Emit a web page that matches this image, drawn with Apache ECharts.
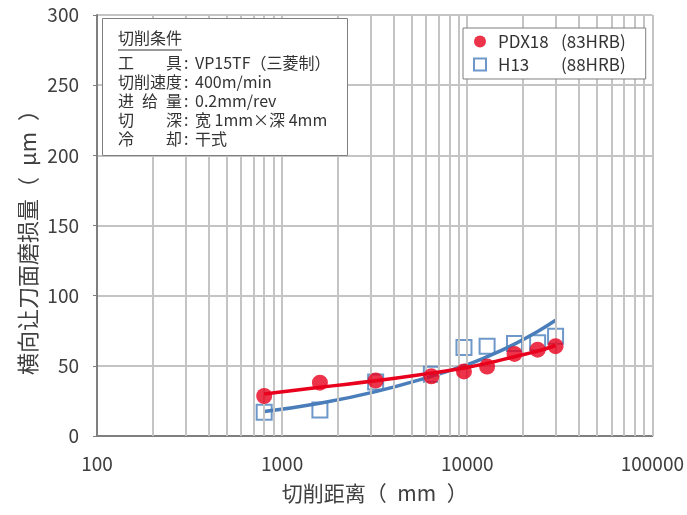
<!DOCTYPE html>
<html>
<head>
<meta charset="utf-8">
<script src="https://cdn.jsdelivr.net/npm/echarts@6/dist/echarts.min.js"></script>
<style>
html,body{margin:0;padding:0;background:#fff;}
#c{width:687px;height:515px;}
</style>
</head>
<body>
<div id="c"></div>
<script>
// ---- data ----
const cutDistance = [800, 1600, 3200, 6400, 9600, 12800, 18000, 24000, 30000];
const pdx18Wear = [28.5, 38, 39.5, 42.5, 46, 49.5, 58.5, 61.5, 64];
const h13Wear = [17, 18.5, 38.5, 44, 63, 64, 66, 66.5, 71];
const trendDistance = [800, 1600, 3200, 6400, 9600, 12800, 18000, 24000, 30000];
const pdx18Trend = [30, 34.8, 39.3, 44.8, 48.5, 51.8, 56.5, 60.5, 64.5];
const h13Trend = [17.4, 23.3, 31.6, 42.5, 50, 56.5, 65.5, 74.5, 82.5];
const seriesNames = ['PDX18', 'H13'];
const hardness = ['(83HRB)', '(88HRB)'];
const xTickLabels = ['100', '1000', '10000', '100000'];
const xGridValues = [200,300,400,500,600,700,800,900,1000,2000,3000,4000,5000,6000,7000,8000,9000,10000,20000,30000,40000,50000,60000,70000,80000,90000,100000];
const conditionTitle = '切削条件';
const conditionLabels = ['工\u3000\u3000具', '切削速度', '进\u2002给\u2002量', '切\u3000\u3000深', '冷\u3000\u3000却'];
const conditionValues = ['VP15TF（三菱制）', '400m/min', '0.2mm/rev', '宽 1mm×深 4mm', '干式'];
const yAxisName = '横向让刀面磨损量（\u2002μm\u2002）';
const xAxisName = '切削距离（\u2002mm\u2002）';

const FONT = '"Noto Sans CJK JP", "Noto Sans CJK SC", sans-serif';
const RED = '#e8001c';
const BLUE = '#4a7ebb';
const TXT = '#404040';

const zip = (xs, ys) => xs.map((x, i) => [x, ys[i]]);
const legendNames = seriesNames.map((n, i) => n + ' ' + hardness[i]);

const graphics = [];
graphics.push({type: 'rect', left: 102, top: 18, shape: {width: 245, height: 137},
  style: {fill: '#fff', stroke: '#7f7f7f', lineWidth: 1}, z: 10});
graphics.push({type: 'text', left: 118, top: 30, z: 11,
  style: {text: conditionTitle, font: '16px ' + FONT, fill: '#333'}});
graphics.push({type: 'line', shape: {x1: 118, y1: 50, x2: 182, y2: 50}, z: 11,
  style: {stroke: '#333', lineWidth: 1}});
conditionLabels.forEach((lab, i) => {
  const y = 55 + i * 19;
  graphics.push({type: 'text', left: 118, top: y, z: 11,
    style: {text: lab, font: '16px ' + FONT, fill: '#333'}});
  graphics.push({type: 'text', left: 184, top: y, z: 11,
    style: {text: ':', font: '16px ' + FONT, fill: '#333'}});
  graphics.push({type: 'text', left: 195, top: y, z: 11,
    style: {text: conditionValues[i], font: '16px ' + FONT, fill: '#333'}});
});
// y axis title, placed like the reference
graphics.push({type: 'text', x: 28, y: 237, rotation: Math.PI / 2, z: 11,
  style: {text: yAxisName, font: '22px ' + FONT, fill: TXT, align: 'center', verticalAlign: 'middle'}});

const chart = echarts.init(document.getElementById('c'), null, {renderer: 'canvas'});
chart.setOption({
  animation: false,
  backgroundColor: '#fff',
  textStyle: {fontFamily: FONT},
  grid: {left: 97, right: 34, top: 15, bottom: 79, containLabel: false},
  legend: {
    data: legendNames,
    orient: 'vertical',
    left: 463, top: 28, z: 50,
    itemWidth: 12, itemHeight: 12, itemGap: 6,
    padding: [5, 20, 6, 10],
    backgroundColor: '#fff',
    borderColor: '#7f7f7f', borderWidth: 1,
    textStyle: {
      fontSize: 17, color: '#333', fontFamily: FONT, padding: [0, 0, 0, 7],
      rich: {a: {width: 63, fontSize: 17, color: '#333', fontFamily: FONT},
             b: {fontSize: 17, color: '#333', fontFamily: FONT}}
    },
    formatter: name => {
      const i = legendNames.indexOf(name);
      return '{a|' + seriesNames[i] + '}{b|' + hardness[i] + '}';
    }
  },
  xAxis: {
    type: 'log', logBase: 10, min: 100, max: 100000,
    name: xAxisName, nameLocation: 'middle', nameGap: 47,
    nameTextStyle: {fontSize: 21, color: TXT, fontFamily: FONT},
    axisLine: {show: true, lineStyle: {color: '#7f7f7f', width: 2}},
    axisTick: {show: false},
    splitLine: {show: false},
    axisLabel: {fontSize: 19, color: TXT, margin: 18, fontFamily: FONT,
      formatter: v => xTickLabels[Math.round(Math.log10(v)) - 2]}
  },
  yAxis: {
    type: 'value', min: 0, max: 300, interval: 50,
    axisLine: {show: true, lineStyle: {color: '#7f7f7f', width: 2}},
    axisTick: {show: true, inside: false, length: 4, lineStyle: {color: '#7f7f7f', width: 1}},
    splitLine: {show: true, lineStyle: {color: '#c4c4c4', width: 2}},
    axisLabel: {fontSize: 19, color: TXT, margin: 18, fontFamily: FONT}
  },
  graphic: graphics,
  series: [
    {
      type: 'line', data: [], z: 1, silent: true,
      markLine: {
        silent: true, symbol: 'none', animation: false,
        label: {show: false},
        lineStyle: {color: '#c4c4c4', width: 2, type: 'solid'},
        emphasis: {disabled: true},
        data: xGridValues.map(v => ({xAxis: v}))
      }
    },
    {
      name: legendNames[1], type: 'scatter', z: 3,
      data: zip(cutDistance, h13Wear),
      symbol: 'rect', symbolSize: 15,
      itemStyle: {color: 'rgba(255,255,255,0)', borderColor: BLUE, borderWidth: 2}
    },
    {
      type: 'line', z: 4, data: zip(trendDistance, h13Trend), smooth: true,
      symbol: 'none', lineStyle: {color: BLUE, width: 3.5}, silent: true
    },
    {
      name: legendNames[0], type: 'scatter', z: 5,
      data: zip(cutDistance, pdx18Wear),
      symbol: 'circle', symbolSize: 16,
      itemStyle: {color: RED}
    },
    {
      type: 'line', z: 6, data: zip(trendDistance, pdx18Trend), smooth: true,
      symbol: 'none', lineStyle: {color: RED, width: 3.5}, silent: true
    }
  ]
});
</script>
</body>
</html>
